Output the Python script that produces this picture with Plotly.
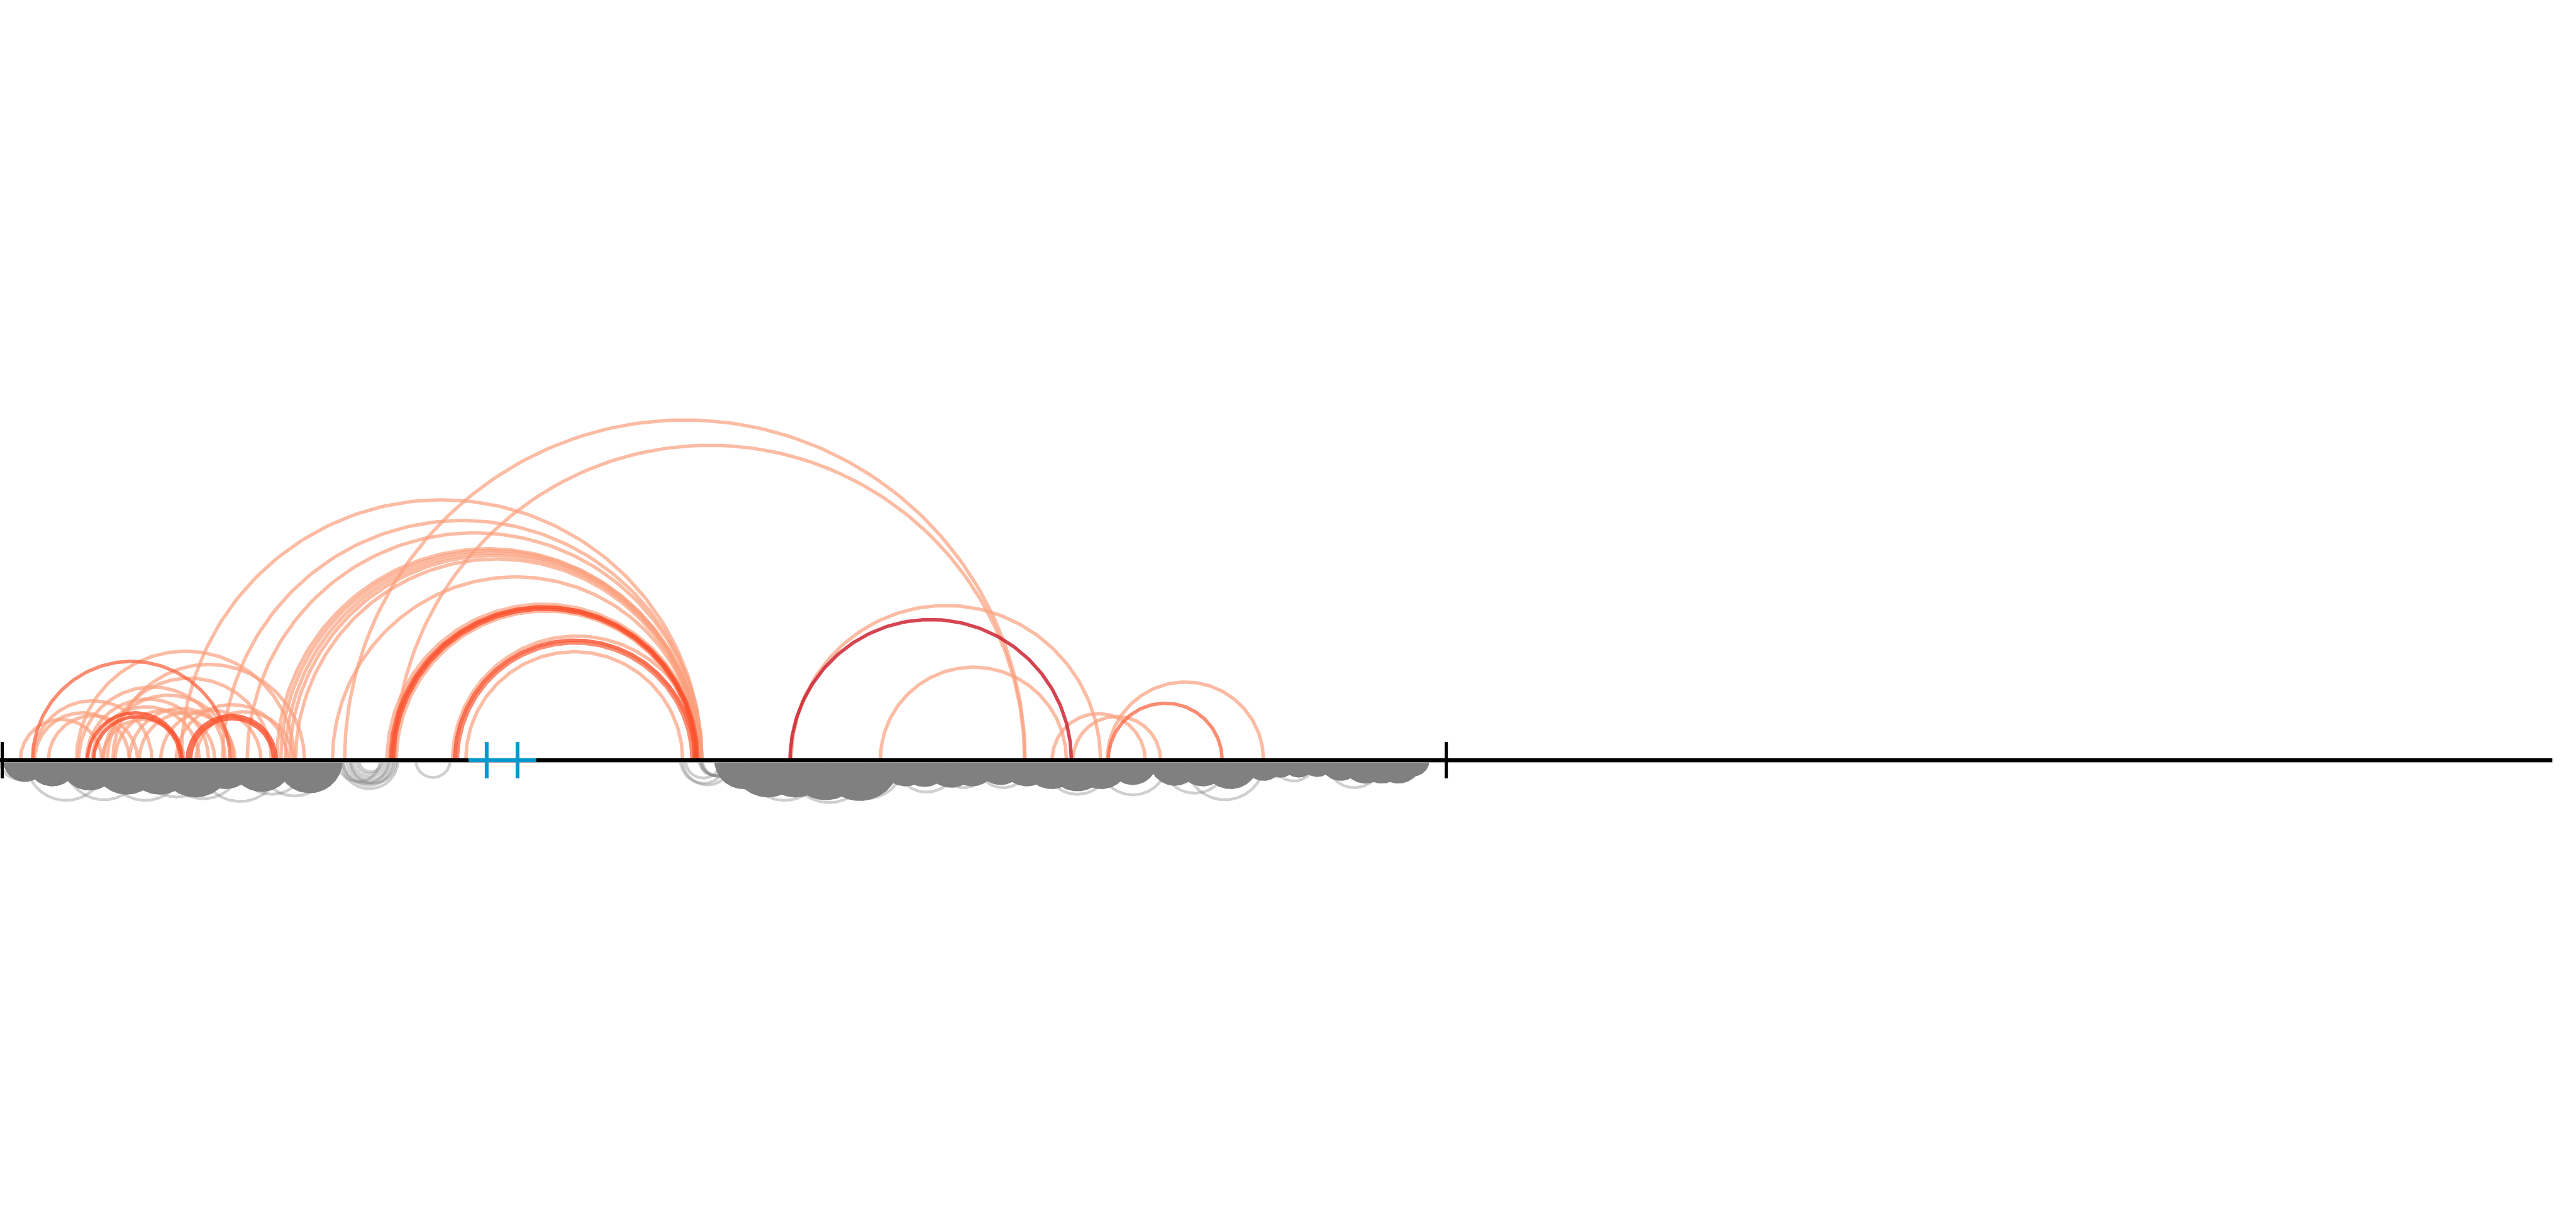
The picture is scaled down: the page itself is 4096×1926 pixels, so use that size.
import numpy as np
import plotly.graph_objects as go

# ---------------- data (positions along the region) ----------------
# upper (coloured) arcs: start, end, strength level (1 light .. 4 dark)
arc_start = [139, 205, 195, 143, 188, 157, 60, 63, 37, 88, 186, 235, 320, 292, 168, 209, 253, 356,
             329, 404, 449, 503, 510, 518, 526, 537, 604, 626, 717, 703, 720, 822, 846,
             1437, 1599, 1911, 1949, 2011,
             59, 712, 831, 2013,
             159, 170, 340, 346, 709, 715, 826,
             1435]
arc_end = [535, 553, 493, 409, 424, 379, 276, 235, 185, 250, 334, 423, 522, 474, 362, 390, 427, 532,
           1275, 1275, 1275, 1271, 1272, 1271, 1270, 1268, 1270, 1862, 1861, 1270, 1262, 1273, 1240,
           1999, 1937, 2080, 2108, 2295,
           418, 1268, 1257, 2220,
           331, 328, 502, 497, 1266, 1264, 1262,
           1946]
arc_level = [1] * 18 + [1] * 15 + [1] * 5 + [2] * 4 + [3] * 7 + [4]

# lower (grey) arcs: dense groups and single faint rings
dense_start = [8, 50, 110, 170, 230, 290, 360, 420, 505,
               1300, 1330, 1380, 1430, 1490, 1600, 1633, 1680, 1720, 1775, 1820, 1860, 1903, 1950,
               2015, 2090, 2140, 2185, 2260, 2297, 2330, 2365, 2400, 2440, 2470, 2500, 2540]
dense_end = [82, 140, 215, 290, 350, 420, 460, 530, 620,
             1400, 1460, 1510, 1570, 1633, 1690, 1725, 1775, 1810, 1860, 1910, 1960, 2011, 2050,
             2100, 2178, 2230, 2285, 2330, 2355, 2388, 2421, 2470, 2520, 2550, 2580, 2594]
ring_start = [0, 47, 117, 191, 254, 361, 432, 300, 470,
              619, 624, 630, 636, 641, 647, 652, 622, 636, 612,
              755,
              1236, 1240, 1245, 1272, 1274, 1270, 1276,
              1352, 1429, 1503, 1625, 1700, 1772, 1895, 1995, 2110, 2153, 2312, 2410, 2509, 2290]
ring_end = [70, 193, 261, 337, 388, 511, 556, 440, 600,
            723, 716, 713, 708, 702, 697, 694, 706, 720, 690,
            818,
            1320, 1330, 1310, 1328, 1332, 1326, 1335,
            1498, 1583, 1643, 1741, 1800, 1872, 2019, 2121, 2230, 2297, 2388, 2510, 2583, 2350]

# axis features
region_start, region_end, line_end = 4, 2627, 4636
highlight_start, highlight_end = 851, 974
highlight_ticks = [884, 940]
tick_half = 33

level_colors = {
    1: "rgba(251,160,125,0.70)",
    2: "rgba(250,100,65,0.75)",
    3: "rgba(251,80,45,0.80)",
    4: "rgba(205,35,50,0.85)",
}


def arcs(starts, ends, sign, n=140):
    xs, ys = [], []
    t = np.linspace(0, np.pi, n)
    for a, b in zip(starts, ends):
        c = (a + b) / 2.0
        r = (b - a) / 2.0
        xs += list(c + r * np.cos(t)) + [None]
        ys += list(sign * r * np.sin(t)) + [None]
    return xs, ys


fig = go.Figure()

# dense grey groups
x, y = arcs(dense_start, dense_end, -1)
fig.add_trace(go.Scatter(x=x, y=y, mode="lines", fill="toself", fillcolor="#808080",
                         line=dict(color="#808080", width=4.5), hoverinfo="skip"))
# faint grey rings
for a, b in zip(ring_start, ring_end):
    x, y = arcs([a], [b], -1)
    fig.add_trace(go.Scatter(x=x, y=y, mode="lines",
                             line=dict(color="rgba(128,128,128,0.38)", width=4.5), hoverinfo="skip"))

# coloured arcs, one trace each so overlaps blend
order = sorted(range(len(arc_start)), key=lambda i: arc_level[i])
for i in order:
    x, y = arcs([arc_start[i]], [arc_end[i]], 1)
    fig.add_trace(go.Scatter(x=x, y=y, mode="lines",
                             line=dict(color=level_colors[arc_level[i]], width=5.5), hoverinfo="skip"))

# thin grey line under axis
fig.add_trace(go.Scatter(x=[0, line_end], y=[-4, -4], mode="lines",
                         line=dict(color="#9a9a9a", width=1.2), hoverinfo="skip"))
# main axis line
fig.add_trace(go.Scatter(x=[0, line_end], y=[0, 0], mode="lines",
                         line=dict(color="black", width=6), hoverinfo="skip"))
# region ticks
for p in (region_start, region_end):
    fig.add_trace(go.Scatter(x=[p, p], y=[-tick_half, tick_half], mode="lines",
                             line=dict(color="black", width=5), hoverinfo="skip"))
# highlighted segment
fig.add_trace(go.Scatter(x=[highlight_start, highlight_end], y=[0, 0], mode="lines",
                         line=dict(color="#0099cf", width=6), hoverinfo="skip"))
for p in highlight_ticks:
    fig.add_trace(go.Scatter(x=[p, p], y=[-tick_half, tick_half], mode="lines",
                             line=dict(color="#0099cf", width=6), hoverinfo="skip"))

fig.update_layout(
    width=4096, height=1926,
    margin=dict(l=0, r=0, t=0, b=0),
    paper_bgcolor="white", plot_bgcolor="white",
    showlegend=False,
    xaxis=dict(range=[0, 4679], visible=False, fixedrange=True),
    yaxis=dict(range=[-819, 1381], visible=False, fixedrange=True),
)

fig.write_html("out.html")
